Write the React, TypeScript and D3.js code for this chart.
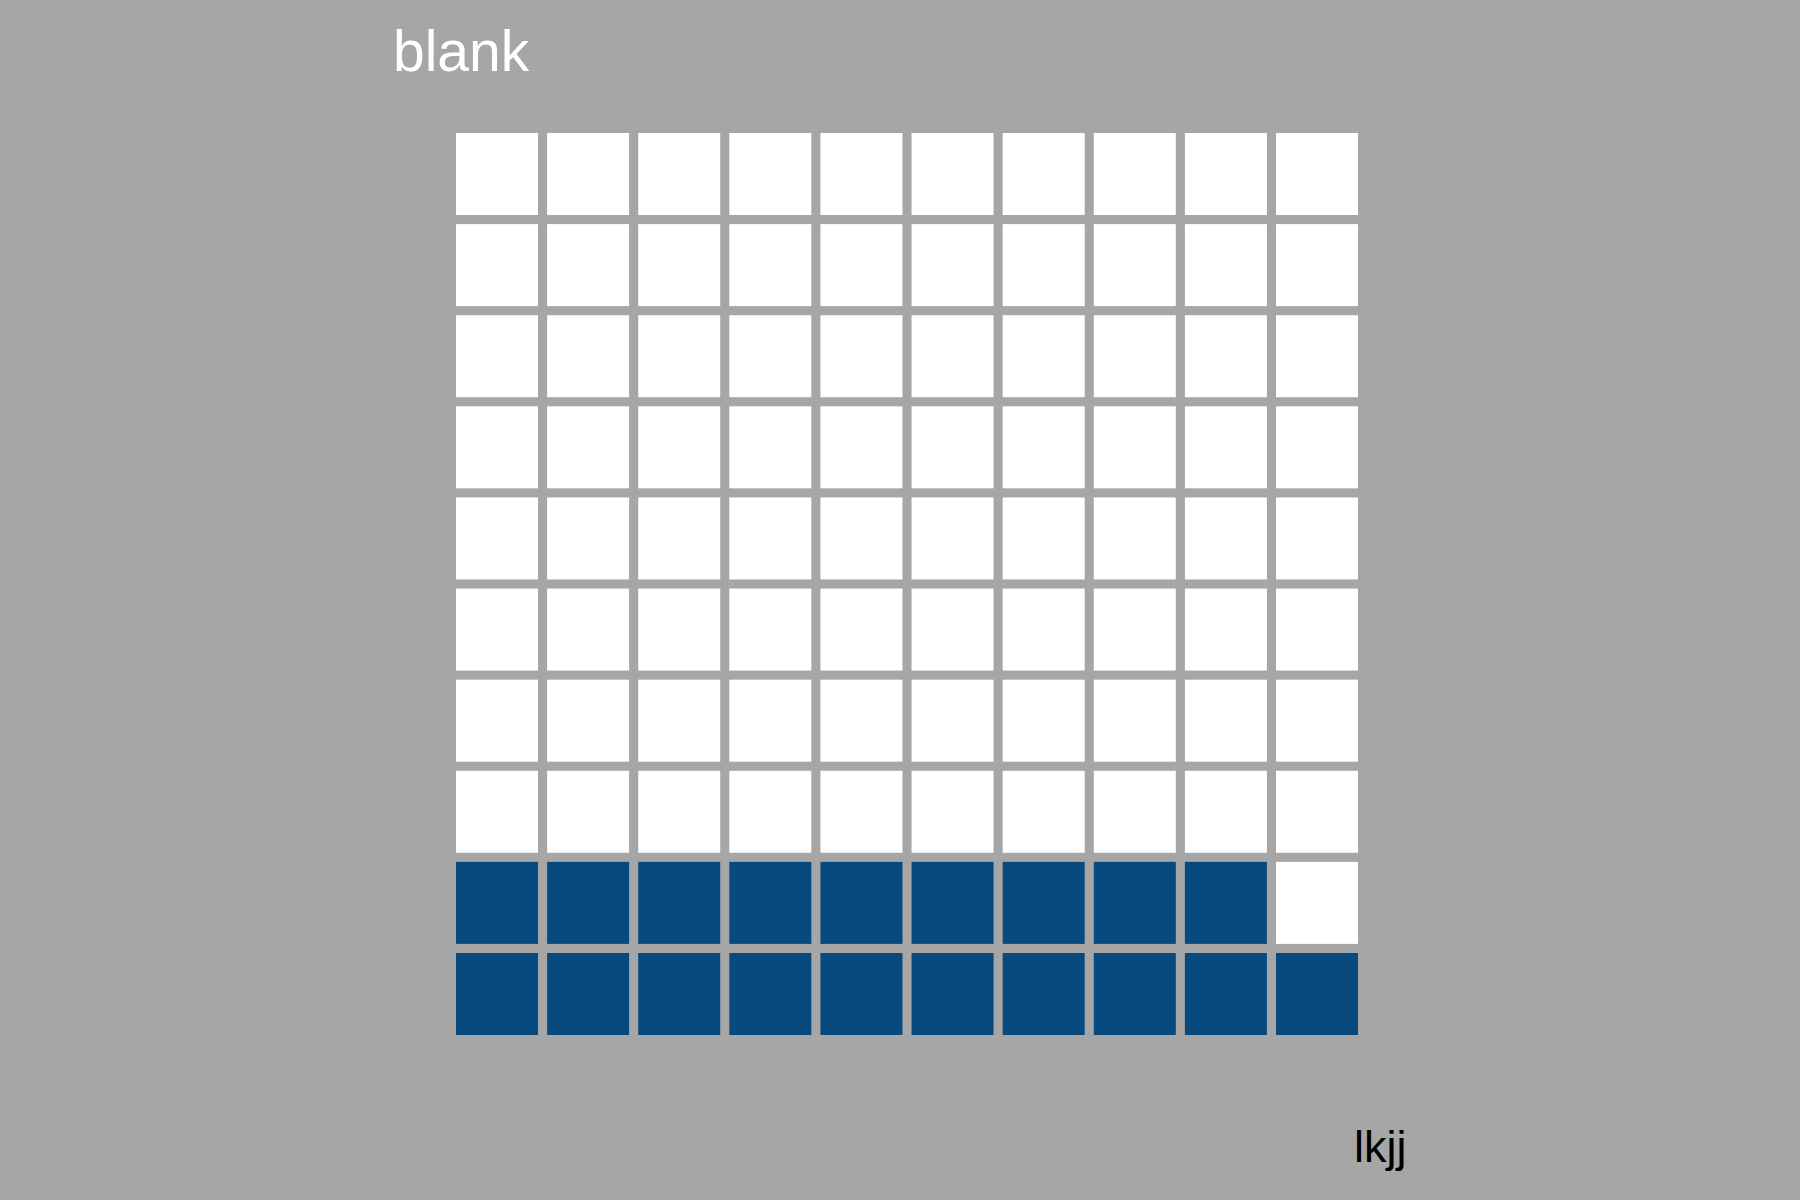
// Waffle chart: 10x10 grid, filled squares counted from bottom-left
import * as d3 from "d3"

const title = "blank"
const caption = "lkjj"
const filledCount = 19
const totalCount = 100
const gridSize = 10

const BG = "#a6a6a6"
const FILL = "#08497e"
const EMPTY = "#ffffff"

export default function App() {
  const width = 1800
  const height = 1200

  const cols = d3.range(gridSize)
  const rows = d3.range(gridSize)

  const x = d3.scaleBand<number>().domain(cols).range([456, 1358]).paddingInner(0.1).paddingOuter(0)
  const y = d3.scaleBand<number>().domain(rows).range([133, 1035]).paddingInner(0.1).paddingOuter(0)

  // cell i fills left->right starting at the bottom row
  const cells = d3.range(totalCount).map(i => ({
    col: i % gridSize,
    row: gridSize - 1 - Math.floor(i / gridSize),
    filled: i < filledCount,
  }))

  return (
    <svg
      width={width}
      height={height}
      style={{ position: "absolute", top: 0, left: 0, display: "block" }}
      fontFamily="'Liberation Sans', Arial, sans-serif"
    >
      <rect x={0} y={0} width={width} height={height} fill={BG} />
      <text x={393} y={71} fill="#ffffff" fontSize={57}>{title}</text>
      {cells.map((c, i) => (
        <rect
          key={i}
          x={x(c.col)}
          y={y(c.row)}
          width={x.bandwidth()}
          height={y.bandwidth()}
          fill={c.filled ? FILL : EMPTY}
        />
      ))}
      <text x={1354} y={1162} fill="#000000" fontSize={45}>{caption}</text>
    </svg>
  )
}
